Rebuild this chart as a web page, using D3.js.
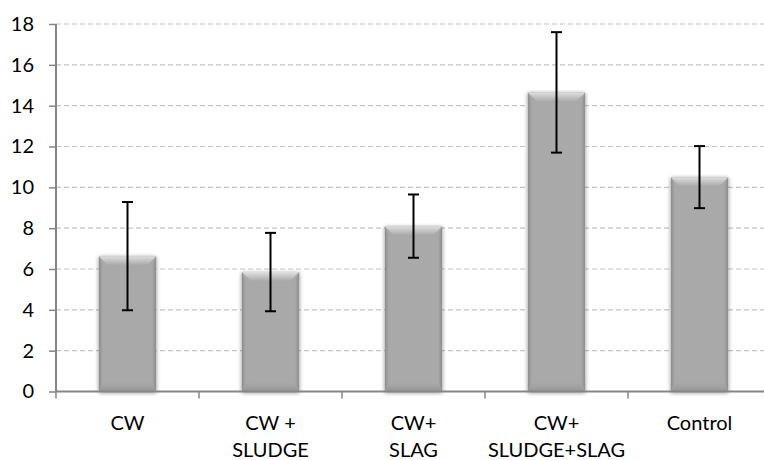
<!DOCTYPE html>
<html><head><meta charset="utf-8">
<script src="https://cdn.jsdelivr.net/npm/d3@7"></script>
<style>body{margin:0;background:#fff}svg{display:block}</style>
</head><body>
<svg id="c" width="764" height="460"></svg>
<script>
const categories = [["CW"],["CW +","SLUDGE"],["CW+","SLAG"],["CW+","SLUDGE+SLAG"],["Control"]];
const values = [6.63, 5.85, 8.1, 14.65, 10.5];
const errors = [2.65, 1.92, 1.55, 2.95, 1.52];
const yTicks = [0,2,4,6,8,10,12,14,16,18];

(function(){
const svg = d3.select("#c");
const pL = 56, pT = 24, pB = 391.5, pR = 771;
const x = d3.scaleBand().domain(d3.range(categories.length)).range([pL,pR]).paddingInner(0.6).paddingOuter(0.3);
const y = d3.scaleLinear().domain([0,18]).range([pB, pT]);
const font = "Lato, 'Open Sans', sans-serif";

const defs = svg.append("defs");
const f = defs.append("filter").attr("id","sh").attr("x","-20%").attr("y","-20%").attr("width","140%").attr("height","140%");
f.append("feGaussianBlur").attr("in","SourceAlpha").attr("stdDeviation",2.2).attr("result","b");
f.append("feOffset").attr("in","b").attr("dx",0).attr("dy",1).attr("result","o");
f.append("feComponentTransfer").attr("in","o").attr("result","o2").append("feFuncA").attr("type","linear").attr("slope",0.45);
const m = f.append("feMerge"); m.append("feMergeNode").attr("in","o2"); m.append("feMergeNode").attr("in","SourceGraphic");
function grad(id,x1,y1,x2,y2,c0){
  const g = defs.append("linearGradient").attr("id",id).attr("x1",x1).attr("y1",y1).attr("x2",x2).attr("y2",y2);
  g.append("stop").attr("offset",0).attr("stop-color",c0);
  g.append("stop").attr("offset",1).attr("stop-color","#a9a9a9");
}
grad("gt",0,0,0,1,"#e0e0e0");
grad("gl",0,0,1,0,"#8c8c8c");
grad("gr",1,0,0,0,"#8c8c8c");
grad("gb",0,1,0,0,"#969696");

// gridlines
svg.append("g").selectAll("line").data(yTicks.filter(d=>d>0)).join("line")
  .attr("x1",pL).attr("x2",pR).attr("y1",d=>y(d)).attr("y2",d=>y(d))
  .attr("stroke","#c4c4c4").attr("stroke-width",1.2).attr("stroke-dasharray","5,3");

// bars
const bw = x.bandwidth(), bev = 9;
const bars = svg.append("g").selectAll("g").data(values).join("g").attr("filter","url(#sh)");
bars.append("rect").attr("x",(d,i)=>x(i)).attr("y",d=>y(d)).attr("width",bw).attr("height",d=>y(0)-y(d)).attr("fill","#a9a9a9");
bars.append("path").attr("fill","url(#gl)").attr("d",(d,i)=>{const x0=x(i),y0=y(d),y1=y(0);return `M${x0},${y0}L${x0+4},${y0+bev}L${x0+4},${y1-bev}L${x0},${y1}Z`;});
bars.append("path").attr("fill","url(#gr)").attr("d",(d,i)=>{const x1=x(i)+bw,y0=y(d),y1=y(0);return `M${x1},${y0}L${x1-4},${y0+bev}L${x1-4},${y1-bev}L${x1},${y1}Z`;});
bars.append("path").attr("fill","url(#gb)").attr("d",(d,i)=>{const x0=x(i),x1=x0+bw,y1=y(0);return `M${x0},${y1}L${x0+4},${y1-bev}L${x1-4},${y1-bev}L${x1},${y1}Z`;});
bars.append("path").attr("fill","url(#gt)").attr("d",(d,i)=>{const x0=x(i),x1=x0+bw,y0=y(d);return `M${x0},${y0}L${x1},${y0}L${x1-bev},${y0+bev}L${x0+bev},${y0+bev}Z`;});

// error bars
const eb = svg.append("g").attr("stroke","#000").attr("stroke-width",2);
values.forEach((v,i)=>{
  const cx = x(i)+bw/2;
  eb.append("line").attr("x1",cx).attr("x2",cx).attr("y1",y(v+errors[i])).attr("y2",y(v-errors[i]));
  eb.append("line").attr("x1",cx-5.5).attr("x2",cx+5.5).attr("y1",y(v+errors[i])).attr("y2",y(v+errors[i]));
  eb.append("line").attr("x1",cx-5.5).attr("x2",cx+5.5).attr("y1",y(v-errors[i])).attr("y2",y(v-errors[i]));
});

// y axis
const ya = svg.append("g").attr("transform",`translate(${pL},0)`)
  .call(d3.axisLeft(y).tickValues(yTicks).tickSize(7).tickPadding(15));
ya.select(".domain").attr("stroke","#868686").attr("stroke-width",2).attr("d",`M0,${pT}V${pB}`);
ya.selectAll(".tick line").attr("stroke","#868686").attr("stroke-width",1.5);
ya.selectAll(".tick text").attr("font-family",font).attr("font-size",20).attr("fill","#000");

// x axis
const xa = svg.append("g").attr("transform",`translate(0,${pB})`);
xa.append("line").attr("x1",pL).attr("x2",pR).attr("stroke","#868686").attr("stroke-width",2);
xa.selectAll("line.t").data(d3.range(categories.length+1)).join("line").attr("class","t")
  .attr("x1",i=>pL+i*(pR-pL)/categories.length).attr("x2",i=>pL+i*(pR-pL)/categories.length)
  .attr("y1",0).attr("y2",7).attr("stroke","#868686").attr("stroke-width",1.5);
const lbl = xa.selectAll("text").data(categories).join("text")
  .attr("font-family",font).attr("font-size",20).attr("fill","#000").attr("text-anchor","middle");
lbl.each(function(d,i){
  const t = d3.select(this);
  d.forEach((s,k)=>t.append("tspan").attr("x",x(i)+bw/2).attr("y",38+k*27.5).text(s));
});
})();
</script>
</body></html>
